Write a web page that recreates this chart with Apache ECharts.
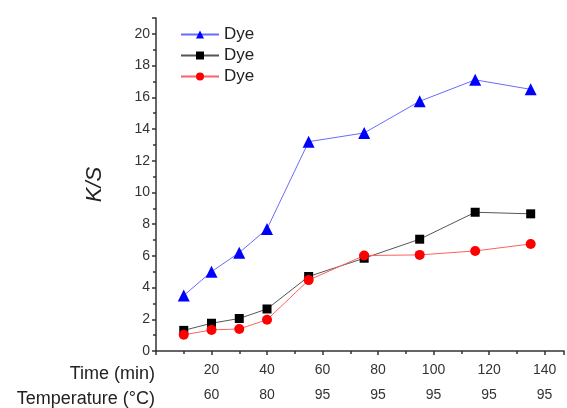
<!DOCTYPE html>
<html>
<head>
<meta charset="utf-8">
<script src="https://cdn.jsdelivr.net/npm/echarts@6/dist/echarts.min.js"></script>
<style>
  html, body { margin: 0; padding: 0; background: #fff; }
  #chart { width: 567px; height: 408px; }
</style>
</head>
<body>
<div id="chart"></div>
<script>
// 时间 (min)
const times = [10, 20, 30, 40, 55, 75, 95, 115, 135]
// three dye series, K/S
const blueKS = [3.5, 5.0, 6.2, 7.7, 13.2, 13.75, 15.75, 17.1, 16.5]
const blackKS = [1.3, 1.75, 2.05, 2.65, 4.7, 5.85, 7.05, 8.75, 8.65]
const redKS = [1.02, 1.33, 1.39, 1.97, 4.47, 6.02, 6.06, 6.31, 6.75]
// tick labels
const timeTicks = [20, 40, 60, 80, 100, 120, 140]
const tempTicks = [60, 80, 95, 95, 95, 95, 95]

const font = 'Liberation Sans, Arial, sans-serif'
const myChart = echarts.init(document.getElementById('chart'))

const pairs = (ys) => times.map((t, i) => [t, ys[i]])

const option = {
  animation: false,
  textStyle: { fontFamily: font },
  grid: { left: 156, right: 0, top: 18, bottom: 53 },
  legend: {
    orient: 'vertical',
    left: 175,
    top: 21,
    itemWidth: 38,
    itemHeight: 10,
    itemGap: 4,
    textStyle: { fontSize: 17, color: '#222', fontFamily: font },
    formatter: () => 'Dye',
  },
  xAxis: {
    type: 'value',
    min: 0,
    max: 147,
    interval: 20,
    splitLine: { show: false },
    axisLine: { lineStyle: { color: '#333', width: 1.5 } },
    axisTick: { length: 4, lineStyle: { color: '#333', width: 1.5 } },
    minorTick: { show: true, splitNumber: 2, length: 3, lineStyle: { color: '#333', width: 1.5 } },
    axisLabel: {
      margin: 7,
      lineHeight: 25,
      fontSize: 14,
      color: '#333',
      formatter: (v) => {
        const i = timeTicks.indexOf(v)
        return i < 0 ? '' : timeTicks[i] + '\n' + tempTicks[i]
      },
    },
  },
  yAxis: {
    type: 'value',
    min: 0,
    max: 21,
    interval: 2,
    name: 'K/S',
    nameLocation: 'middle',
    nameGap: 50,
    nameTextStyle: { fontSize: 22, fontStyle: 'italic', color: '#222', fontFamily: font },
    splitLine: { show: false },
    axisLine: { show: true, lineStyle: { color: '#333', width: 1.5 } },
    axisTick: { show: true, length: 4, lineStyle: { color: '#333', width: 1.5 } },
    minorTick: { show: true, splitNumber: 2, length: 3, lineStyle: { color: '#333', width: 1.5 } },
    axisLabel: {
      fontSize: 14,
      color: '#333',
      margin: 6,
      formatter: (v) => (v > 20 ? '' : v),
    },
  },
  graphic: [
    {
      type: 'text',
      right: 567 - 155,
      top: 365,
      style: { text: 'Time (min)', fontSize: 18, fill: '#222', fontFamily: font, textAlign: 'right' },
    },
    {
      type: 'text',
      right: 567 - 155,
      top: 390,
      style: { text: 'Temperature (°C)', fontSize: 18, fill: '#222', fontFamily: font, textAlign: 'right' },
    },
  ],
  series: [
    {
      name: 'Dye1',
      type: 'line',
      data: pairs(blueKS),
      symbol: 'triangle',
      symbolSize: 12,
      itemStyle: { color: '#0000ff' },
      lineStyle: { color: '#6a6aff', width: 1 },
    },
    {
      name: 'Dye2',
      type: 'line',
      data: pairs(blackKS),
      symbol: 'rect',
      symbolSize: 9,
      itemStyle: { color: '#000' },
      lineStyle: { color: '#555', width: 1 },
    },
    {
      name: 'Dye3',
      type: 'line',
      data: pairs(redKS),
      symbol: 'circle',
      symbolSize: 10,
      itemStyle: { color: '#ff0000' },
      lineStyle: { color: '#ff6060', width: 1 },
    },
  ],
}

myChart.setOption(option)
</script>
</body>
</html>
